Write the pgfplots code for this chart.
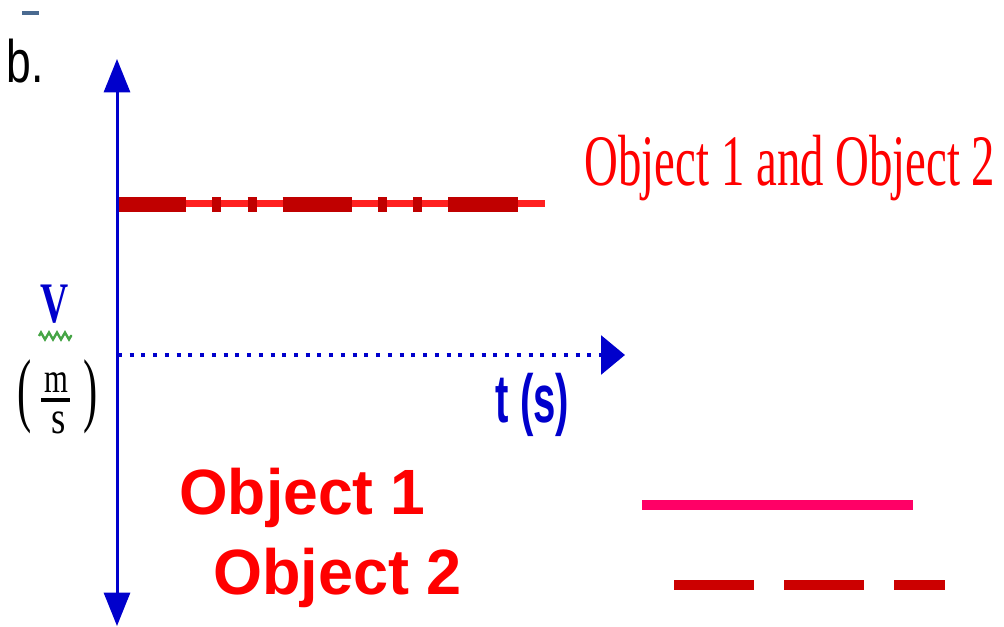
\documentclass[border=0pt]{standalone}
\usepackage{fontspec}
\setmainfont{Liberation Serif}
\newfontfamily\arial{Liberation Sans}
\usepackage{pgfplots}
\pgfplotsset{compat=1.18}
\usetikzlibrary{arrows.meta,decorations.pathmorphing}
\definecolor{axblue}{RGB}{0,0,204}
\definecolor{thinred}{RGB}{255,32,32}
\definecolor{darkred}{RGB}{192,0,0}
\definecolor{legpink}{RGB}{255,0,102}
\definecolor{legred}{RGB}{204,0,0}
\definecolor{topdash}{RGB}{74,106,144}
\definecolor{wavy}{RGB}{70,165,70}
\begin{document}
\begin{tikzpicture}
\useasboundingbox (0,0) rectangle (753pt,470.25pt);
\begin{axis}[
  at={(0,0)}, anchor=south west,
  scale only axis, width=753pt, height=470.25pt,
  xmin=0, xmax=1004, ymin=0, ymax=627,
  hide axis, clip=false,
]
% top small dash
\addplot[topdash, line width=3pt, line cap=butt] coordinates {(22,614) (39,614)};
% object 1 (solid) and object 2 (dashed) velocity lines
\addplot[thinred, line width=5.25pt, line cap=butt] coordinates {(118,423) (545,423)};
\addplot[darkred, line width=11.25pt, line cap=butt,
  dash pattern=on 52pt off 19.6pt on 6.75pt off 19.6pt on 6.75pt off 19.6pt] coordinates {(117,422.5) (523,422.5)};
% horizontal dotted time axis
\addplot[axblue, line width=3.2pt, line cap=butt, dash pattern=on 3pt off 5.8pt,
  -{Triangle[width=29pt,length=18pt]}] coordinates {(118,272) (625,272)};
% vertical velocity axis
\addplot[axblue, line width=2.25pt,
  {Triangle[width=19.5pt,length=25pt]}-{Triangle[width=19.5pt,length=25pt]}] coordinates {(117,1) (117,568)};
% legend lines
\addplot[legpink, line width=7.5pt, line cap=butt] coordinates {(642,121.5) (913,121.5)};
\addplot[legred, line width=7.5pt, line cap=butt, dash pattern=on 60pt off 22.5pt] coordinates {(674,41.5) (945,41.5)};
% texts
\node[anchor=base, inner sep=0, xscale=0.74, font=\arial\fontsize{45}{45}\selectfont] at (axis cs:25,544) {b.};
\node[anchor=base, inner sep=0, xscale=0.645, text=red, font=\fontsize{54.4}{54.4}\selectfont] at (axis cs:790,441) {Object 1 and Object 2};
\node[anchor=base, inner sep=0, xscale=0.68, text=axblue, font=\bfseries\fontsize{43}{43}\selectfont] at (axis cs:55,304) {V};
\draw[wavy, line width=1.8pt, decorate, decoration={zigzag, segment length=6pt, amplitude=2.6pt}] (axis cs:39,291) -- (axis cs:72,291);
\node[anchor=base, inner sep=0, xscale=0.52, font=\fontsize{61.5}{61.5}\selectfont] at (axis cs:25,210) {(};
\node[anchor=base, inner sep=0, xscale=0.52, font=\fontsize{61.5}{61.5}\selectfont] at (axis cs:91,210) {)};
\node[anchor=base, inner sep=0, xscale=0.73, font=\fontsize{31.5}{31.5}\selectfont] at (axis cs:56.5,234) {m};
\draw[black, line width=3pt] (axis cs:41,227) -- (axis cs:70,227);
\node[anchor=base, inner sep=0, xscale=0.8, font=\fontsize{34.5}{34.5}\selectfont] at (axis cs:58.5,193) {s};
\node[anchor=base, inner sep=0, xscale=0.59, text=axblue, font=\arial\bfseries\fontsize{51}{51}\selectfont] at (axis cs:532.5,204) {t (s)};
\node[anchor=base, inner sep=0, xscale=0.975, text=red, font=\arial\bfseries\fontsize{48}{48}\selectfont] at (axis cs:302.5,112) {Object 1};
\node[anchor=base, inner sep=0, xscale=0.985, text=red, font=\arial\bfseries\fontsize{48}{48}\selectfont] at (axis cs:337.5,32) {Object 2};
\end{axis}
\end{tikzpicture}
\end{document}
